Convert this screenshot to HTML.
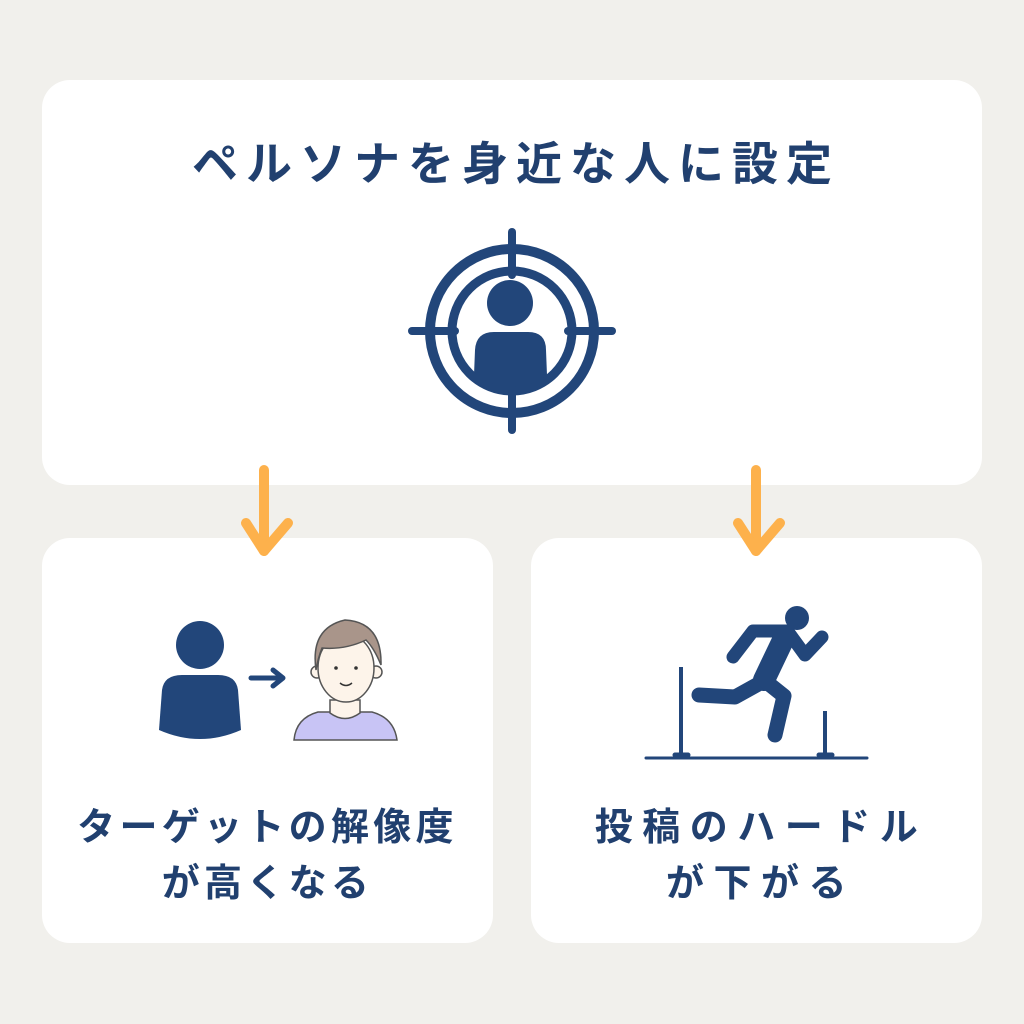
<!DOCTYPE html>
<html><head><meta charset="utf-8"><style>
html,body{margin:0;padding:0;}
body{width:1024px;height:1024px;background:#f1f0ec;position:relative;overflow:hidden;font-family:"Liberation Sans","Noto Sans CJK JP",sans-serif;}
.card{position:absolute;background:#fff;border-radius:28px;}
.t{position:absolute;color:#21406f;font-weight:bold;text-align:center;white-space:nowrap;}
svg{position:absolute;left:0;top:0;}
</style></head><body>
<div class="card" style="left:42px;top:80px;width:940px;height:405px"></div>
<div class="card" style="left:42px;top:538px;width:451px;height:405px"></div>
<div class="card" style="left:531px;top:538px;width:451px;height:405px"></div>
<div class="t" style="left:0;width:1024px;top:135px;font-size:46px;letter-spacing:8px;line-height:58px;padding-left:8px;box-sizing:border-box">ペルソナを身近な人に設定</div>
<div class="t" style="left:42px;width:451px;top:800px;font-size:38px;letter-spacing:4.3px;line-height:56px;">ターゲットの解像度<br>が高くなる</div>
<div class="t" style="left:531px;width:451px;top:800px;font-size:38px;letter-spacing:9.5px;line-height:56px;padding-left:9px;box-sizing:border-box">投稿のハードル<br>が下がる</div>
<svg width="1024" height="1024" viewBox="0 0 1024 1024">
<defs><clipPath id="c"><circle cx="512" cy="331" r="56"/></clipPath></defs>
<g fill="none" stroke="#22467a">
<circle cx="512" cy="331" r="82" stroke-width="10"/>
<circle cx="512" cy="331" r="60" stroke-width="9"/>
<g stroke-width="8" stroke-linecap="round">
<line x1="412" y1="331" x2="455" y2="331"/><line x1="568" y1="331" x2="612" y2="331"/>
<line x1="512" y1="232" x2="512" y2="275"/><line x1="512" y1="387" x2="512" y2="430"/>
</g></g>
<g fill="#22467a">
<circle cx="510" cy="303" r="23"/>
<path clip-path="url(#c)" d="M473 400 L475 350 Q476 332 494 332 L528 332 Q546 332 546 350 L548 400Z"/>
<circle cx="200" cy="645" r="24"/>
<path d="M159 730 L162 690 Q164 675 182 675 L218 675 Q236 675 238 690 L241 730 Q200 748 159 730Z"/>
</g>
<g stroke="#22467a" stroke-width="5" fill="none" stroke-linecap="round" stroke-linejoin="round">
<line x1="251" y1="678" x2="282" y2="678"/><polyline points="273,670 283,678 273,686"/>
</g>
<g stroke="#555" stroke-width="1.5">
<path d="M294 740 Q296 718 318 712 L372 712 Q394 718 397 740Z" fill="#c8c4f5"/>
<path d="M330 700 L330 713 Q345 724 360 713 L360 700Z" fill="#fdf4ea"/>
<circle cx="317" cy="672" r="6" fill="#fdf4ea"/><circle cx="376" cy="672" r="6" fill="#fdf4ea"/>
<ellipse cx="346" cy="668" rx="28" ry="34" fill="#fdf4ea"/>
<path d="M316 670 Q310 628 345 620 Q382 622 381 665 Q374 648 366 640 Q345 650 322 648 Q318 658 316 670Z" fill="#a9958a"/>
</g>
<g fill="#333"><circle cx="336" cy="668" r="1.8"/><circle cx="356" cy="668" r="1.8"/></g>
<path d="M340 683 Q346 688 352 683" stroke="#333" stroke-width="1.5" fill="none"/>
<g stroke="#22467a" fill="none" stroke-linecap="round" stroke-linejoin="round">
<line x1="646" y1="758" x2="867" y2="758" stroke-width="3"/>
<line x1="681" y1="667" x2="681" y2="757" stroke-width="4" stroke-linecap="butt"/>
<line x1="825" y1="711" x2="825" y2="757" stroke-width="4" stroke-linecap="butt"/>
<line x1="675" y1="755" x2="688" y2="755" stroke-width="5"/>
<line x1="819" y1="755" x2="832" y2="755" stroke-width="5"/>
<polyline points="733,657 753,631 788,631" stroke-width="13"/>
<polyline points="789,633 805,655 822,637" stroke-width="13"/>
<line x1="785" y1="636" x2="764" y2="680" stroke-width="22"/>
<polyline points="762,682 735,697 699,695" stroke-width="15"/>
<polyline points="764,680 784,696 775,735" stroke-width="15"/>
</g>
<circle cx="797" cy="618" r="12" fill="#22467a"/>
<g stroke="#fdb14c" stroke-width="10" fill="none" stroke-linecap="round" stroke-linejoin="round">
<line x1="264" y1="470" x2="264" y2="551"/><polyline points="246,523 264,551 288,523"/>
<line x1="756" y1="470" x2="756" y2="551"/><polyline points="738,523 756,551 780,523"/>
</g>
</svg>
</body></html>
